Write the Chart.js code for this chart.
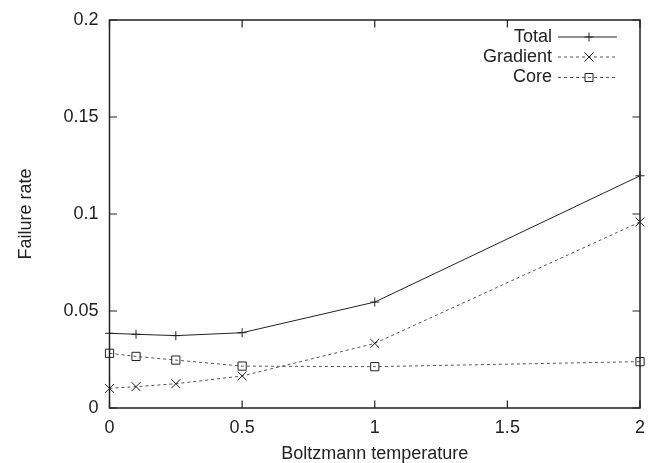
<!DOCTYPE html>
<html>
<head>
<meta charset="utf-8">
<script src="https://cdn.jsdelivr.net/npm/chart.js@4.4.1/dist/chart.umd.min.js"></script>
<style>
  body { margin: 0; background: #fff; }
</style>
</head>
<body>
<canvas id="failChart" width="657" height="463"></canvas>
<script>
// values
var temps = [0, 0.1, 0.25, 0.5, 1, 2];
var totalRate = [0.0385, 0.038, 0.0373, 0.0388, 0.0546, 0.1197];
var gradientRate = [0.0101, 0.011, 0.0125, 0.0165, 0.0333, 0.0959];
var coreRate = [0.0282, 0.0266, 0.0247, 0.0216, 0.0213, 0.0239];
var xTicks = [0, 0.5, 1, 1.5, 2];
var yTicks = [0, 0.05, 0.1, 0.15, 0.2];
var seriesNames = ["Total", "Gradient", "Core"];

var FONT = "'Liberation Sans', Arial, Helvetica, sans-serif";
var INK = "#222";

function pairs(ys) {
    return temps.map(function (t, i) { return { x: t, y: ys[i] }; });
}

function drawMark(ctx, kind, x, y) {
    ctx.beginPath();
    if (kind === "plus") {
        ctx.moveTo(x - 4.5, y); ctx.lineTo(x + 4.5, y);
        ctx.moveTo(x, y - 4.5); ctx.lineTo(x, y + 4.5);
    } else if (kind === "cross") {
        ctx.moveTo(x - 4.5, y - 4.5); ctx.lineTo(x + 4.5, y + 4.5);
        ctx.moveTo(x - 4.5, y + 4.5); ctx.lineTo(x + 4.5, y - 4.5);
    } else {
        ctx.rect(x - 4, y - 4, 8, 8);
    }
    ctx.stroke();
}

// gnuplot style frame, inward ticks, and the key in the top right
var framePlugin = {
    id: "frame",
    afterDatasetsDraw: function (chart) {
        var ctx = chart.ctx;
        var a = chart.chartArea;
        var sx = chart.scales.x, sy = chart.scales.y;
        var tl = 7.5;
        ctx.save();
        ctx.strokeStyle = INK;
        ctx.lineWidth = 1.5;
        ctx.strokeRect(a.left, a.top, a.right - a.left, a.bottom - a.top);
        ctx.lineWidth = 1.2;
        ctx.beginPath();
        xTicks.forEach(function (t) {
            var px = sx.getPixelForValue(t);
            ctx.moveTo(px, a.bottom); ctx.lineTo(px, a.bottom - tl);
            ctx.moveTo(px, a.top); ctx.lineTo(px, a.top + tl);
        });
        yTicks.forEach(function (t) {
            var py = sy.getPixelForValue(t);
            ctx.moveTo(a.left, py); ctx.lineTo(a.left + tl, py);
            ctx.moveTo(a.right, py); ctx.lineTo(a.right - tl, py);
        });
        ctx.stroke();

        // key
        var kinds = ["plus", "cross", "box"];
        var rowY = [37, 57, 77.5];
        ctx.font = "18px " + FONT;
        ctx.textAlign = "right";
        ctx.textBaseline = "middle";
        seriesNames.forEach(function (name, i) {
            var y = rowY[i];
            ctx.fillStyle = INK;
            ctx.fillText(name, 552, y);
            ctx.strokeStyle = i === 0 ? INK : "#555";
            ctx.lineWidth = 1;
            ctx.setLineDash(i === 0 ? [] : [3, 3]);
            ctx.beginPath();
            ctx.moveTo(558, y); ctx.lineTo(617, y);
            ctx.stroke();
            ctx.setLineDash([]);
            ctx.strokeStyle = INK;
            drawMark(ctx, kinds[i], 589, y);
        });
        ctx.restore();
    }
};

new Chart("failChart", {
    type: "scatter",
    data: {
        datasets: [{
            label: seriesNames[0],
            data: pairs(totalRate),
            showLine: true,
            borderColor: INK,
            borderWidth: 1,
            pointStyle: "cross",
            pointRadius: 4.5,
            pointBorderWidth: 1,
            pointBorderColor: INK,
            pointBackgroundColor: "rgba(0,0,0,0)",
            clip: false
        }, {
            label: seriesNames[1],
            data: pairs(gradientRate),
            showLine: true,
            borderColor: "#555",
            borderWidth: 1,
            borderDash: [3, 3],
            pointStyle: "crossRot",
            pointRadius: 6.3,
            pointBorderWidth: 1,
            pointBorderColor: INK,
            pointBackgroundColor: "rgba(0,0,0,0)",
            clip: false
        }, {
            label: seriesNames[2],
            data: pairs(coreRate),
            showLine: true,
            borderColor: "#555",
            borderWidth: 1,
            borderDash: [3, 3],
            pointStyle: "rect",
            pointRadius: 5.8,
            pointBorderWidth: 1,
            pointBorderColor: INK,
            pointBackgroundColor: "rgba(0,0,0,0)",
            clip: false
        }]
    },
    options: {
        responsive: false,
        animation: false,
        layout: { padding: { top: 20, right: 17, left: 0, bottom: 0 } },
        plugins: {
            legend: { display: false },
            tooltip: { enabled: false }
        },
        scales: {
            x: {
                type: "linear",
                min: 0,
                max: 2,
                afterBuildTicks: function (s) {
                    s.ticks = xTicks.map(function (v) { return { value: v }; });
                },
                afterFit: function (s) { s.height = 55; },
                grid: { display: false },
                border: { display: false },
                ticks: {
                    padding: 1,
                    color: INK,
                    font: { family: FONT, size: 18 },
                    callback: function (v) { return String(v); }
                },
                title: {
                    display: true,
                    text: "Boltzmann temperature",
                    color: INK,
                    font: { family: FONT, size: 18 },
                    padding: { top: 0, bottom: -1.5 }
                }
            },
            y: {
                type: "linear",
                min: 0,
                max: 0.2,
                afterBuildTicks: function (s) {
                    s.ticks = yTicks.map(function (v) { return { value: v }; });
                },
                afterFit: function (s) { s.width = 109.5; },
                grid: { display: false },
                border: { display: false },
                ticks: {
                    padding: 3,
                    color: INK,
                    font: { family: FONT, size: 18 },
                    callback: function (v) { return String(v); }
                },
                title: {
                    display: true,
                    text: "Failure rate",
                    color: INK,
                    font: { family: FONT, size: 18 },
                    padding: { top: 15, bottom: 0 }
                }
            }
        }
    },
    plugins: [framePlugin]
});
</script>
</body>
</html>
